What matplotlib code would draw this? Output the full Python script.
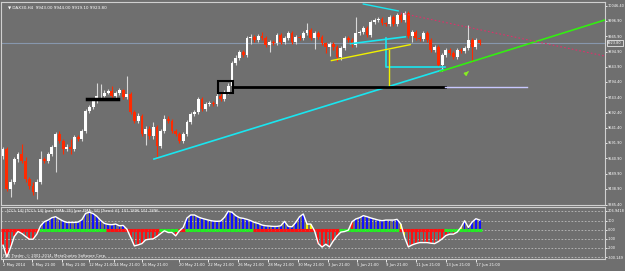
import numpy as np
import matplotlib
matplotlib.use("Agg")
import matplotlib.pyplot as plt

# DAX30 H4 candles (2 May 2014 .. 17 Jun 2014)
opens = [9548, 9571, 9439, 9462, 9538, 9555, 9532, 9472, 9449, 9429,
         9462, 9538, 9532, 9555, 9578, 9621, 9598, 9571, 9578, 9571,
         9611, 9604, 9631, 9697, 9710, 9730, 9746, 9749, 9759, 9763,
         9746, 9756, 9766, 9743, 9753, 9693, 9664, 9680, 9621, 9637,
         9614, 9644, 9581, 9631, 9670, 9664, 9631, 9621, 9598, 9621,
         9660, 9687, 9693, 9736, 9703, 9720, 9723, 9720, 9749, 9736,
         9759, 9779, 9858, 9875, 9895, 9885, 9941, 9944, 9934, 9947,
         9941, 9918, 9928, 9924, 9951, 9928, 9941, 9957, 9928, 9944,
         9941, 9957, 9967, 9941, 9957, 9944, 9924, 9911, 9921, 9911,
         9878, 9908, 9941, 9934, 9918, 9957, 9961, 9974, 9951, 9994,
         10000, 10003, 9990, 9987, 10010, 9987, 10017, 10000, 10023, 9947,
         9961, 9941, 9938, 9957, 9934, 9901, 9911, 9852, 9885, 9901,
         9891, 9878, 9901, 9898, 9908, 9934, 9911, 9934]
closes = [9571, 9439, 9462, 9538, 9555, 9532, 9472, 9449, 9429, 9462,
          9538, 9532, 9555, 9578, 9621, 9598, 9571, 9578, 9571, 9611,
          9604, 9631, 9697, 9710, 9730, 9746, 9749, 9759, 9763, 9746,
          9756, 9766, 9743, 9753, 9693, 9664, 9680, 9621, 9637, 9614,
          9644, 9581, 9631, 9670, 9664, 9631, 9621, 9598, 9621, 9660,
          9687, 9693, 9736, 9703, 9720, 9723, 9720, 9749, 9736, 9759,
          9779, 9858, 9875, 9895, 9885, 9941, 9944, 9934, 9947, 9941,
          9918, 9928, 9924, 9951, 9928, 9941, 9957, 9928, 9944, 9941,
          9957, 9967, 9941, 9957, 9944, 9924, 9911, 9921, 9911, 9878,
          9908, 9941, 9934, 9918, 9957, 9961, 9974, 9951, 9994, 10000,
          10003, 9990, 9987, 10010, 9987, 10017, 10000, 10023, 9947, 9961,
          9941, 9938, 9957, 9934, 9901, 9911, 9852, 9885, 9901, 9891,
          9878, 9901, 9898, 9908, 9934, 9911, 9934, 9924]
highs = [9578, 9578, 9472, 9545, 9562, 9588, 9545, 9478, 9462, 9472,
         9564, 9545, 9562, 9585, 9628, 9631, 9604, 9588, 9604, 9618,
         9618, 9638, 9703, 9717, 9740, 9792, 9786, 9766, 9770, 9779,
         9763, 9773, 9770, 9815, 9760, 9700, 9690, 9687, 9647, 9647,
         9660, 9650, 9637, 9683, 9680, 9670, 9637, 9628, 9628, 9667,
         9693, 9700, 9743, 9743, 9727, 9730, 9730, 9756, 9756, 9766,
         9792, 9865, 9885, 9901, 9901, 9947, 9954, 9951, 9954, 9961,
         9947, 9934, 9934, 9957, 9957, 9947, 9964, 9964, 9951, 9951,
         9964, 9990, 9974, 9964, 9964, 9951, 9928, 9928, 9928, 9918,
         9915, 9947, 9947, 9941, 10010, 9967, 9980, 9980, 10000, 10007,
         10010, 10010, 9994, 10017, 10017, 10023, 10023, 10030, 10030, 9967,
         9967, 9947, 9964, 9964, 9941, 9918, 9918, 9891, 9908, 9908,
         9898, 9908, 9908, 9915, 9984, 9941, 9941, 9938]
lows = [9538, 9432, 9413, 9455, 9528, 9525, 9462, 9440, 9419, 9406,
        9455, 9525, 9525, 9548, 9495, 9591, 9555, 9565, 9555, 9564,
        9598, 9598, 9624, 9690, 9703, 9723, 9740, 9743, 9753, 9740,
        9740, 9750, 9736, 9736, 9686, 9657, 9657, 9614, 9585, 9604,
        9605, 9538, 9574, 9624, 9657, 9624, 9614, 9591, 9591, 9614,
        9653, 9680, 9687, 9697, 9697, 9713, 9713, 9713, 9730, 9730,
        9753, 9772, 9851, 9868, 9878, 9878, 9921, 9928, 9928, 9934,
        9911, 9895, 9918, 9918, 9921, 9921, 9934, 9921, 9921, 9934,
        9934, 9950, 9934, 9905, 9937, 9918, 9891, 9880, 9901, 9862,
        9868, 9901, 9928, 9911, 9911, 9951, 9954, 9944, 9944, 9987,
        9994, 9984, 9980, 9980, 9980, 9980, 9994, 9994, 9941, 9928,
        9934, 9931, 9931, 9928, 9895, 9895, 9845, 9829, 9878, 9885,
        9871, 9871, 9891, 9891, 9901, 9861, 9905, 9918]

# CCI(14) values per bar
cci = [-170, -300, -196, -74, -19, -41, -74, -104, -104, -48,
       44, 89, 107, 133, 144, 119, 96, 81, 81, 81,
       85, 111, 181, 193, 178, 148, 104, 70, 59, 56,
       63, 44, 48, 7, -85, -178, -167, -152, -111, -104,
       -100, -74, -41, -11, -30, -30, -67, -11, 26, 130,
       163, 163, 141, 126, 115, 104, 96, 93, 96, 137,
       204, 193, 156, 133, 126, 115, 100, 81, 70, 52,
       44, 41, 37, 37, 44, 93, 37, 33, 81, 144,
       174, 63, 63, -11, -152, -190, -159, -189, -122, -67,
       -26, -19, -4, 89, 119, 133, 156, 144, 130, 119,
       107, 100, 107, 107, 107, 115, 63, -85, -189, -167,
       -152, -141, -141, -141, -148, -152, -130, -100, -63, -48,
       -48, -26, 26, 100, 26, 85, 122, 107]
# histogram colour per bar: B blue, R red, Y yellow
hist_colors = ("RRRRRRRRRR" "BBBBBBBBBB" "BBBBBBBBBB" "BBBBRRRRRR"
               "RRRRRRRRBB" "BBBBBBBBBB" "BBBBBBBBBB" "BBBBBBBBBB"
               "BYYYRRRRRR" "RRRRBBBBBB" "BBBBBBYYRR" "RRRRRRRRRR"
               "RYYBBBBB")
# trend (zero line) colour per bar: g green, r red
trend_colors = ("rrrrrrrrrr" "gggggggggg" "ggggggggrr" "rrrrrrrrrr"
                "rrgggggrrg" "gggggggggg" "gggggggrrr" "rrrrrrrrrr"
                "rrrrrrrrrr" "gggggggggg" "ggggggrrrr" "rrrrrrrrgg"
                "gggggggg")

price_ticks = [10046.40, 9996.90, 9945.90, 9894.90, 9843.90, 9794.40, 9743.40,
               9692.40, 9641.40, 9591.90, 9540.90, 9489.90, 9438.90, 9385.40]
cci_ticks = [206.9418, 100, 0, -100, -200, -300.149]
cci_tick_labels = ["206.9418", "100", "0.00", "-100", "-200", "-300.149"]

time_labels = ["2 May 2014", "6 May 21:00", "8 May 21:00", "12 May 21:00",
               "14 May 21:00", "16 May 21:00", "20 May 21:00", "22 May 21:00",
               "26 May 21:00", "28 May 21:00", "30 May 21:00", "3 Jun 21:00",
               "5 Jun 21:00", "9 Jun 21:00", "11 Jun 21:00", "13 Jun 21:00",
               "17 Jun 21:00"]
time_label_bars = [0, 7.7, 15.6, 22.8, 29.5, 37, 47, 54.7, 62.7, 70.7,
                   78.7, 86.6, 94.2, 102, 110, 118, 126]

# chart objects: (bar, price) anchors
cyan_trend = [(40.2, 9538), (117.3, 9835)]
green_ray = [(116.5, 9829), (160.4, 10000)]
cyan_top = [(96.0, 10053), (105.3, 10030)]
cyan_slant = [(92.6, 9921), (107.2, 9944)]
cyan_step = [(102.1, 9941), (102.1, 9845), (117.8, 9845)]
yellow_slant = [(87.5, 9865), (108.5, 9918)]
yellow_vert = [(102.9, 9901), (102.9, 9776)]
red_dotted = [(105.9, 10023), (160.4, 9880)]
black_level = 9776
black_left_level = 9736
bid = 9923.80

BG = "#6f6f6f"
W, H = 625, 271
fig = plt.figure(figsize=(W / 100, H / 100), dpi=100)
fig.patch.set_facecolor(BG)

def ax_rect(x0, y0, x1, y1):
    return [x0 / W, 1 - y1 / H, (x1 - x0) / W, (y1 - y0) / H]

xlim = (-0.55, 160.4)
n = len(closes)
idx = np.arange(n)
FS = 2.5

ax = fig.add_axes(ax_rect(1, 2, 605, 205))
ax.set_facecolor(BG)
ax.set_xlim(*xlim)
ax.set_ylim(9389.7, 10059.6)

o = np.array(opens); c = np.array(closes)
up = c >= o
cols = np.where(up, "white", "#ff2a00")
ax.vlines(idx, lows, highs, colors=np.where(up, "#d8d8d8", "#ff2a00"), lw=0.8, zorder=3)
body_h = np.maximum(np.abs(c - o), 2.5)
ax.bar(idx, body_h, bottom=np.minimum(o, c), width=0.75, color=cols, lw=0, zorder=4)

ax.axhline(bid, color="#8797ad", lw=0.8, zorder=1)

def line(pts, **kw):
    xs, ys = zip(*pts)
    ax.plot(xs, ys, **kw)

line(cyan_trend, color="#19e6f0", lw=1.2, zorder=5)
line(green_ray, color="#33ee11", lw=1.2, zorder=5)
line(cyan_top, color="#19e6f0", lw=1.0, zorder=5)
line(cyan_slant, color="#19e6f0", lw=1.2, zorder=5)
line(cyan_step, color="#19e6f0", lw=1.2, zorder=5)
line(yellow_slant, color="#f0f000", lw=1.0, zorder=5)
line(yellow_vert, color="#f0f000", lw=1.0, zorder=5)
line(red_dotted, color="#e0306a", lw=0.8, ls=(0, (1.5, 2)), zorder=5)
ax.plot([61.2, 117.8], [black_level, black_level], color="black", lw=2.0, zorder=5)
ax.plot([117.8, 139.5], [black_level, black_level], color="#c8c8ff", lw=1.0, zorder=5)
ax.plot([22.3, 30.6], [black_left_level, black_left_level], color="black", lw=2.5, zorder=5)
ax.add_patch(plt.Rectangle((57.4, 9759), 3.8, 37, fill=False, ec="black", lw=1.5, zorder=6))
ax.annotate("", xy=(124.6, 9835), xytext=(123.4, 9822),
            arrowprops=dict(arrowstyle="-|>", color="#88ee22", lw=1, mutation_scale=5), zorder=6)

ax.yaxis.tick_right()
ax.set_yticks(price_ticks)
ax.set_yticklabels([f"{p:.2f}" for p in price_ticks])
ax.tick_params(axis="y", colors="white", labelsize=FS, length=1.5, width=0.6, pad=0.5)
ax.set_xticks([])
for s in ax.spines.values():
    s.set_color("#d0d0d0"); s.set_linewidth(0.8)
ax.annotate(f"{bid:.2f}", xy=(1.0, bid), xycoords=("axes fraction", "data"),
            xytext=(1.6, 0), textcoords="offset points", va="center", ha="left",
            fontsize=FS, color="white",
            bbox=dict(boxstyle="square,pad=0.2", fc=BG, ec="white", lw=0.5))
ax.text(0.012, 0.985, "\u25bc DAX30,H4  9943.00 9944.00 9919.10 9923.80",
        transform=ax.transAxes, fontsize=3.0, color="white", va="top")

# CCI panel
ax2 = fig.add_axes(ax_rect(1, 207, 605, 259))
ax2.set_facecolor(BG)
ax2.set_xlim(*xlim)
ax2.set_ylim(-322, 251)
cmap = {"B": "#1010ff", "R": "#ff1010", "Y": "#f0f000"}
ax2.bar(idx, cci, width=0.45, color=[cmap[k] for k in hist_colors], lw=0, zorder=3)
for lv in cci_ticks:
    ax2.axhline(lv, color="#bdbdbd", lw=0.6, ls=(0, (2, 2)), zorder=1)
tmap = {"g": "#22ee22", "r": "#ff1010"}
for i, k in enumerate(trend_colors):
    ax2.plot([i - 0.5, i + 0.5], [0, 0], color=tmap[k], lw=2.2, solid_capstyle="butt", zorder=4)
ax2.plot(idx, cci, color="white", lw=1.0, zorder=5)
ax2.yaxis.tick_right()
ax2.set_yticks(cci_ticks)
ax2.set_yticklabels(cci_tick_labels)
ax2.tick_params(axis="y", colors="white", labelsize=FS, length=1.5, width=0.6, pad=0.5)
ax2.set_xticks(time_label_bars)
ax2.set_xticklabels(time_labels, ha="left")
ax2.tick_params(axis="x", colors="white", labelsize=2.7, length=2, width=0.6, pad=1)
for s in ax2.spines.values():
    s.set_color("#d0d0d0"); s.set_linewidth(0.8)
ax2.text(0.01, 0.97, "[CCI: 14] [TCCI: 14] [per LSMA: 25] [per EMA: 34] [Trend: 6]  101.1896 101.1896",
         transform=ax2.transAxes, fontsize=2.7, color="white", va="top")
ax2.text(0.004, 0.02, "FXX Trader, \u00a9 2001-2014, MetaQuotes Software Corp.",
         transform=ax2.transAxes, fontsize=2.7, color="white", va="bottom")

fig.savefig("out.png", dpi=100, facecolor=BG)
